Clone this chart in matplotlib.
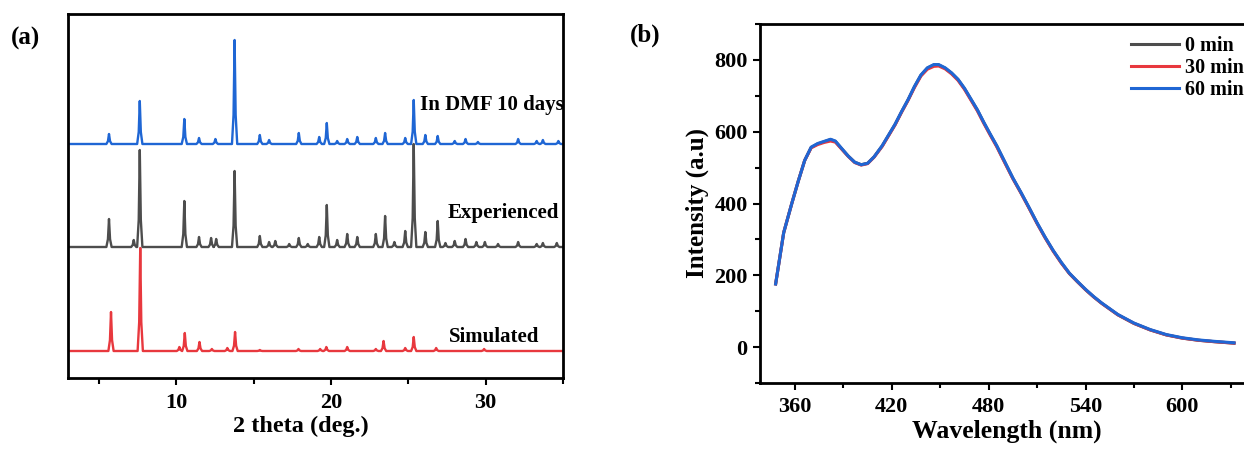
import matplotlib
matplotlib.use("Agg")
import matplotlib.pyplot as plt
from matplotlib.ticker import MultipleLocator

plt.rcParams['font.family'] = ['Liberation Serif', 'DejaVu Serif']
plt.rcParams['font.weight'] = 'bold'

# ---------------- data: panel (a) XRD peaks (2theta, height above baseline) -------------
dmf_pos = [5.65, 7.64, 10.52, 11.47, 12.53, 13.77, 15.4, 16.0, 17.92, 19.24, 19.73, 20.4,
           21.05, 21.7, 22.9, 23.5, 24.8, 25.35, 26.1, 26.9, 28.0, 28.7, 29.5, 32.1,
           33.3, 33.7, 34.7]
dmf_h = [10, 43, 25, 6, 5, 104, 9, 4, 11, 7, 21, 3,
         5, 7, 6, 11, 6, 44, 9, 8, 3, 5, 2, 5,
         3, 4, 3]

exp_pos = [5.65, 7.25, 7.64, 10.52, 11.47, 12.25, 12.58, 13.77, 15.4, 16.0, 16.4, 17.3,
           17.92, 18.5, 19.24, 19.73, 20.4, 21.05, 21.7, 22.9, 23.5, 24.1, 24.8, 25.35,
           26.1, 26.9, 27.4, 28.0, 28.7, 29.4, 29.95, 30.8, 32.1, 33.3, 33.7, 34.6]
exp_h = [28, 7, 97, 46, 10, 9, 8, 76, 11, 5, 6, 3,
         9, 3, 10, 42, 7, 13, 10, 13, 31, 5, 16, 103,
         15, 26, 4, 6, 8, 5, 5, 3, 5, 3, 4, 4]

sim_pos = [5.78, 7.67, 10.2, 10.55, 11.5, 12.3, 13.3, 13.8, 15.4, 17.9, 19.3, 19.7,
           21.05, 22.9, 23.4, 24.8, 25.35, 26.8, 29.9]
sim_h = [39, 103, 4, 18, 9, 2, 3, 19, 1, 2, 2, 4,
         4, 2, 10, 3, 14, 3, 2]

series_labels = ["In DMF 10 days", "Experienced", "Simulated"]
series_offsets = [234, 131, 27]

# ---------------- data: panel (b) emission spectra -------------------------------------
wl = [348, 353, 358, 362, 366, 370, 374, 378, 382, 385, 389, 393, 397, 401, 405, 409,
      414, 418, 422, 426, 430, 434, 438, 442, 446, 449, 453, 457, 461, 465, 469, 473,
      477, 481, 485, 490, 495, 500, 505, 510, 515, 520, 525, 530, 535, 540, 545, 550,
      555, 560, 570, 580, 590, 600, 610, 620, 632]
int_0 = [176, 319, 400, 462, 520, 556, 566, 572, 578, 573, 552, 532, 515, 508, 512, 530,
         560, 590, 620, 655, 688, 725, 757, 777, 786, 786, 777, 763, 745, 720, 690, 660,
         625, 592, 560, 515, 470, 430, 388, 345, 305, 268, 235, 205, 182, 160, 140, 122,
         106, 90, 66, 48, 34, 25, 19, 15, 11]
int_30 = [176, 319, 400, 462, 520, 555, 564, 570, 574, 571, 551, 531, 514, 507, 511, 529,
          559, 589, 619, 654, 687, 723, 755, 774, 782, 783, 775, 761, 743, 718, 688, 658,
          623, 590, 558, 513, 469, 429, 387, 344, 304, 267, 234, 205, 182, 160, 140, 122,
          106, 90, 66, 48, 34, 25, 19, 15, 11]
int_60 = [176, 319, 400, 462, 520, 557, 567, 573, 579, 574, 553, 532, 515, 508, 512, 530,
          561, 591, 621, 656, 689, 726, 758, 778, 787, 787, 778, 764, 746, 721, 691, 661,
          626, 593, 561, 516, 471, 431, 389, 346, 306, 269, 236, 206, 183, 161, 141, 123,
          107, 91, 67, 49, 35, 26, 20, 16, 12]
spec_labels = ["0 min", "30 min", "60 min"]

# ---------------- styles -------------------------------------------------------------
c_blue = "#1f66d4"
c_gray = "#4d4d4d"
c_red = "#e8383e"


def peak_polyline(pos, h, offset, hw, x0=3.0, x1=35.0):
    xs, ys = [x0], [offset]
    for p, hh in zip(pos, h):
        xs += [p - hw, p - hw * 0.4, p, p + hw * 0.4, p + hw]
        ys += [offset, offset + 0.28 * hh, offset + hh, offset + 0.28 * hh, offset]
    xs.append(x1)
    ys.append(offset)
    return xs, ys


fig = plt.figure(figsize=(12.44, 4.5), dpi=100)

# ---------------- panel (a) ----------------------------------------------------------
axa = fig.add_axes([68 / 1244, 72 / 450, 495 / 1244, 364 / 450])
for pos, h, off, col, hw in [(dmf_pos, dmf_h, series_offsets[0], c_blue, 0.17),
                             (exp_pos, exp_h, series_offsets[1], c_gray, 0.17),
                             (sim_pos, sim_h, series_offsets[2], c_red, 0.17)]:
    xs, ys = peak_polyline(pos, h, off, hw)
    axa.plot(xs, ys, color=col, lw=1.7, solid_joinstyle='round')

axa.set_xlim(3, 35)
axa.set_ylim(0, 364)
axa.set_yticks([])
axa.xaxis.set_major_locator(MultipleLocator(10))
axa.xaxis.set_minor_locator(MultipleLocator(5))
axa.tick_params(axis='x', which='major', direction='out', length=5, width=1.5,
                labelsize=16, pad=6)
axa.tick_params(axis='x', which='minor', direction='out', length=4, width=1.5)
for lab in axa.get_xticklabels():
    lab.set_fontweight('bold')
for s in axa.spines.values():
    s.set_linewidth(2)
axa.set_xlabel("2 theta (deg.)", fontsize=17.5, fontweight='bold')
axa.xaxis.set_label_coords(0.47, -0.105)

axa.text(25.75, 273, series_labels[0], fontsize=15, fontweight='bold', ha='left', va='center')
axa.text(27.55, 165, series_labels[1], fontsize=15, fontweight='bold', ha='left', va='center')
axa.text(27.65, 41, series_labels[2], fontsize=15, fontweight='bold', ha='left', va='center')

fig.text(25 / 1244, 1 - 38 / 450, "(a)", fontsize=18, fontweight='bold', ha='center', va='center')

# ---------------- panel (b) ----------------------------------------------------------
axb = fig.add_axes([759.5 / 1244, 67 / 450, 495.5 / 1244, 359 / 450])
axb.plot(wl, int_0, color=c_gray, lw=2.2, label=spec_labels[0])
axb.plot(wl, int_30, color=c_red, lw=2.2, label=spec_labels[1])
axb.plot(wl, int_60, color=c_blue, lw=2.2, label=spec_labels[2])
axb.set_xlim(338, 645)
axb.set_ylim(-100, 900)
axb.xaxis.set_major_locator(MultipleLocator(60))
axb.xaxis.set_minor_locator(MultipleLocator(30))
axb.yaxis.set_major_locator(MultipleLocator(200))
axb.yaxis.set_minor_locator(MultipleLocator(100))
axb.tick_params(which='major', direction='out', length=5, width=1.5, labelsize=16)
axb.tick_params(which='minor', direction='out', length=3.5, width=1.5)
axb.tick_params(axis='x', pad=5)
for lab in axb.get_xticklabels() + axb.get_yticklabels():
    lab.set_fontweight('bold')
for s in axb.spines.values():
    s.set_linewidth(2)
axb.set_xlabel("Wavelength (nm)", fontsize=18.5, fontweight='bold', labelpad=2)
axb.set_ylabel("Intensity (a.u)", fontsize=18, fontweight='bold', labelpad=4)
leg = axb.legend(loc='upper left', bbox_to_anchor=(0.725, 1.0), frameon=False,
                 prop={'size': 14.5, 'weight': 'bold'}, handlelength=2.4,
                 handletextpad=0.3, labelspacing=0.1, borderaxespad=0.2)

fig.text(645 / 1244, 1 - 35 / 450, "(b)", fontsize=18, fontweight='bold', ha='center', va='center')

fig.savefig("out.png", dpi=100)
